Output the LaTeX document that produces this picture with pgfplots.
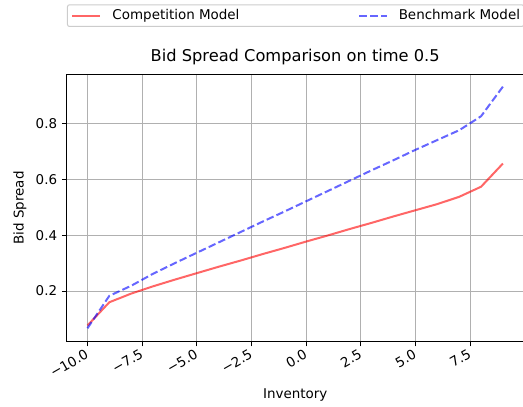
\documentclass[border=0pt]{standalone}
\usepackage{fontspec}
\setmainfont{DejaVu Sans}
\usepackage{pgfplots}
\pgfplotsset{compat=1.18}

\newcommand{\lblfont}{\fontsize{13.5}{16}\selectfont}
\newcommand{\ttlfont}{\fontsize{16.3}{19}\selectfont}

\begin{document}
\begin{tikzpicture}
\useasboundingbox (-66.7bp,-65.3bp) rectangle (456.3bp,341.7bp);
\begin{axis}[
  scale only axis, width=457bp, height=267.4bp,
  xmin=-10.95, xmax=9.95, ymin=0.019, ymax=0.975,
  axis line style={line width=1.08bp, black},
  grid=major, major grid style={line width=1.08bp, color=black!31},
  tick pos=left, tick align=outside, major tick length=4.7bp,
  every tick/.style={black, line width=1.08bp},
  xtick={-10,-7.5,-5,-2.5,0,2.5,5,7.5},
  xticklabels={−10.0,−7.5,−5.0,−2.5,0.0,2.5,5.0,7.5},
  ytick={0.2,0.4,0.6,0.8},
  yticklabels={0.2,0.4,0.6,0.8},
  ticklabel style={font=\lblfont},
  xticklabel style={xshift=-3bp, yshift=-2bp, rotate=30, anchor=north east, inner sep=0pt},
  yticklabel style={anchor=east, inner sep=0pt, xshift=-4.7bp},
  title={Bid Spread Comparison on time 0.5},
  title style={font=\ttlfont, at={(axis description cs:0.5,1)}, anchor=base, yshift=7.3bp, inner sep=0pt},
  xlabel={Inventory},
  xlabel style={font=\lblfont, at={(axis description cs:0.5,0)}, anchor=north, yshift=-46.3bp, inner sep=0pt},
  ylabel={Bid Spread},
  ylabel style={font=\lblfont, at={(axis description cs:0,0.5)}, anchor=center, yshift=46.7bp, inner sep=0pt},
  legend columns=2,
  legend cell align=left,
  legend image code/.code={\draw[#1] (0bp,0bp) -- (28bp,0bp);},
  legend style={at={(axis description cs:0,1)}, anchor=south west, xshift=0.3bp, yshift=47.3bp,
    draw=black!20, rounded corners=2bp, fill=white, line width=1bp,
    inner xsep=3.7bp, inner ysep=5bp, font=\lblfont,
    nodes={inner sep=0pt},
    column sep=0bp,
    /tikz/column 1/.style={column sep=11.3bp},
    /tikz/column 2/.style={column sep=119bp},
    /tikz/column 3/.style={column sep=10.3bp}},
]
% competition model
\addplot[no marks, red, draw opacity=0.6, line width=2bp] coordinates {
  (-10,0.077) (-9,0.160) (-8,0.191) (-7,0.217) (-6,0.241) (-5,0.264)
  (-4,0.287) (-3,0.309) (-2,0.332) (-1,0.354) (0,0.377) (1,0.399)
  (2,0.422) (3,0.444) (4,0.467) (5,0.489) (6,0.511) (7,0.537)
  (8,0.573) (9,0.656)
};
\addlegendentry{Competition Model}
% benchmark model
\addplot[no marks, blue, draw opacity=0.6, line width=2bp, dash pattern=on 7.5bp off 3.2bp] coordinates {
  (-10,0.067) (-9,0.183) (-8,0.219) (-7,0.262) (-6,0.300) (-5,0.337)
  (-4,0.374) (-3,0.411) (-2,0.448) (-1,0.484) (0,0.521) (1,0.558)
  (2,0.595) (3,0.632) (4,0.668) (5,0.705) (6,0.740) (7,0.775)
  (8,0.825) (9,0.931)
};
\addlegendentry{Benchmark Model}
\end{axis}
\end{tikzpicture}
\end{document}
